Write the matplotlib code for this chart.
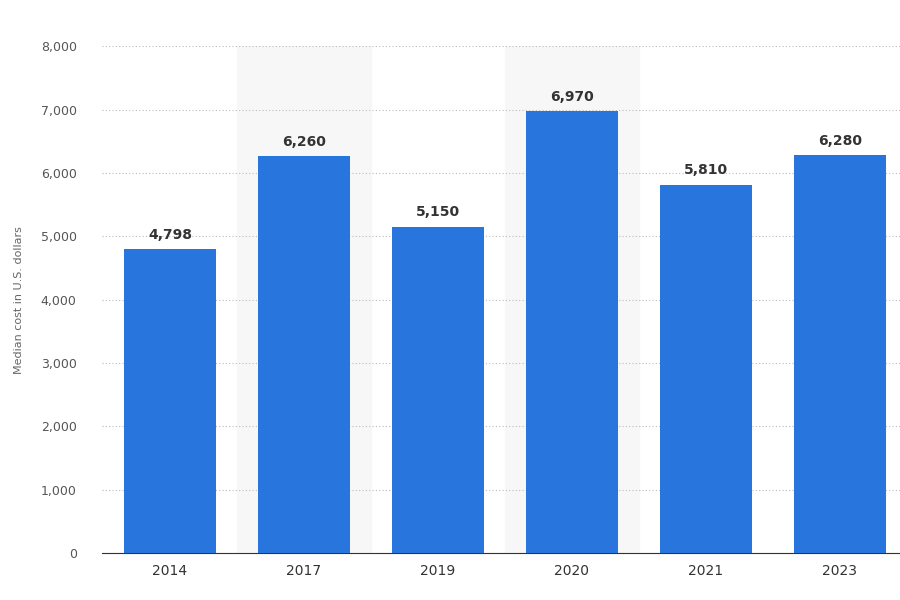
import matplotlib
matplotlib.use("Agg")
import matplotlib.pyplot as plt

years = ["2014", "2017", "2019", "2020", "2021", "2023"]
values = [4798, 6260, 5150, 6970, 5810, 6280]
yticks = [0, 1000, 2000, 3000, 4000, 5000, 6000, 7000, 8000]

fig = plt.figure(figsize=(9, 6), dpi=100)
ax = fig.add_axes([0.113, 0.078, 0.887, 0.845])
x = list(range(len(years)))
for i in (1, 3):
    ax.axvspan(i - 0.5, i + 0.5, color="#f7f7f7", zorder=0)
ax.bar(x, values, width=0.69, color="#2876dd", zorder=3)
for xi, v in zip(x, values):
    ax.text(xi, v + 120, f"{v:,}", ha="center", va="bottom", fontsize=10,
            fontweight="bold", color="#333333", zorder=4)
ax.set_xlim(-0.51, 5.45)
ax.set_ylim(0, 8000)
ax.set_yticks(yticks)
ax.set_yticklabels([f"{t:,}" for t in yticks], fontsize=9, color="#555555")
ax.set_xticks(x)
ax.set_xticklabels(years, fontsize=10, color="#333333")
ax.yaxis.grid(True, linestyle=(0, (1, 2)), color="#bbbbbb", linewidth=0.8, zorder=1)
for s in ("top", "right", "left"):
    ax.spines[s].set_visible(False)
ax.spines["bottom"].set_color("#333333")
ax.tick_params(axis="y", length=0, pad=18)
ax.tick_params(axis="x", length=0, pad=8)
ax.set_ylabel("Median cost in U.S. dollars", fontsize=8, color="#666666", labelpad=12)
fig.savefig("out.png")
